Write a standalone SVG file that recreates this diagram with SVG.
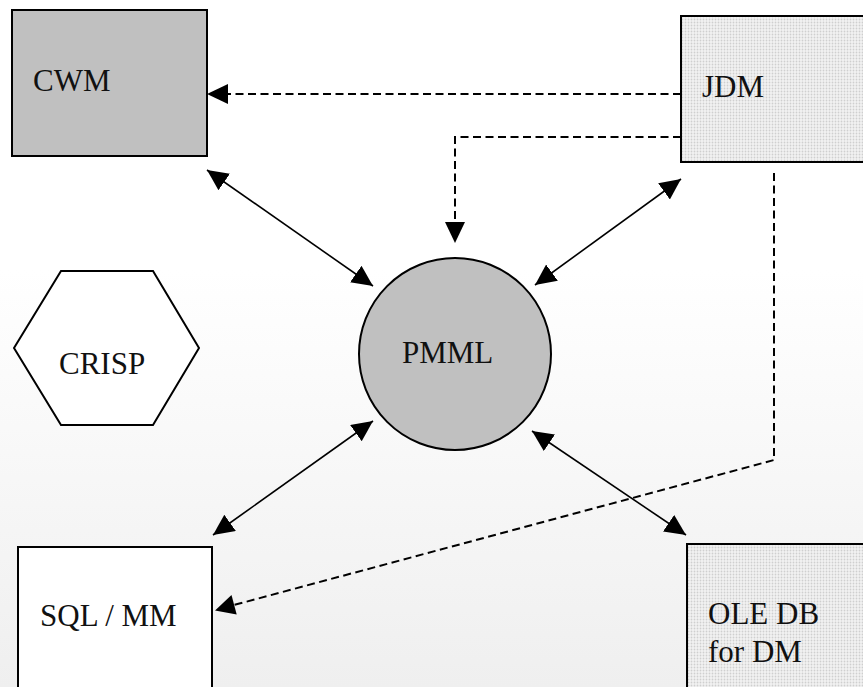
<svg xmlns="http://www.w3.org/2000/svg" width="863" height="687" viewBox="0 0 863 687">
  <style>
    .box { stroke: #000; stroke-width: 2; }
    .lbl { font-size: 31px; fill: #111; }
    .solid { fill: none; stroke: #000; stroke-width: 1.6; marker-start: url(#head); marker-end: url(#head); }
    .dash { fill: none; stroke: #000; stroke-width: 2; stroke-dasharray: 8 4.5; }
  </style>
  <defs>
    <!-- fine dot screen used by the JDM and OLE DB boxes -->
    <pattern id="dots" width="3" height="3" patternUnits="userSpaceOnUse">
      <rect width="3" height="3" fill="#f3f3f3"/>
      <circle cx="1.5" cy="1.5" r="0.9" fill="#cfcfcf"/>
    </pattern>
    <!-- faint haze over the lower background -->
    <linearGradient id="haze" x1="0" y1="0" x2="0" y2="1">
      <stop offset="0" stop-color="#ffffff"/>
      <stop offset="1" stop-color="#efefef"/>
    </linearGradient>
    <marker id="head" markerUnits="userSpaceOnUse" markerWidth="22" markerHeight="21" refX="21" refY="10" orient="auto-start-reverse">
      <path d="M0,0 L21,10 L0,20 z" fill="#000"/>
    </marker>
  </defs>

  <rect width="863" height="687" fill="#ffffff"/>
  <rect x="0" y="270" width="863" height="417" fill="url(#haze)"/>

  <g id="connectors">
    <!-- JDM to CWM -->
    <line class="dash" x1="681" y1="94" x2="227" y2="94"/>
    <path d="M228,84 L207,94 L228,104 z" fill="#000"/>
    <!-- JDM to PMML -->
    <polyline class="dash" points="681,137 455,137 455,224"/>
    <path d="M445,222 L455,243 L465,222 z" fill="#000"/>
    <!-- JDM to SQL / MM -->
    <polyline class="dash" points="774,173 774,460 234,605"/>
    <path d="M231.5,595 L215,610.5 L236.7,614.4 z" fill="#000"/>
    <!-- two-way links to PMML -->
    <line class="solid" x1="207" y1="170" x2="373" y2="286"/>
    <line class="solid" x1="681" y1="179" x2="535" y2="285"/>
    <line class="solid" x1="373" y1="421" x2="213" y2="535"/>
    <line class="solid" x1="532" y1="431" x2="686" y2="535"/>
  </g>

  <g font-family="'Liberation Serif', 'Times New Roman', 'DejaVu Serif', serif">
    <g id="cwm">
      <rect class="box" x="12" y="10" width="195" height="146" fill="#c0c0c0"/>
      <text class="lbl" x="33" y="91">CWM</text>
    </g>

    <g id="jdm">
      <rect class="box" x="681" y="16" width="200" height="146" fill="url(#dots)"/>
      <text class="lbl" x="702" y="97">JDM</text>
    </g>

    <g id="pmml">
      <circle class="box" cx="455" cy="354" r="96" fill="#c0c0c0"/>
      <text class="lbl" x="402" y="363">PMML</text>
    </g>

    <g id="crisp">
      <polygon class="box" points="14,348 61,271 153,271 199,348 153,425 61,425" fill="#ffffff" stroke-width="1.6"/>
      <text class="lbl" x="59" y="374">CRISP</text>
    </g>

    <g id="sqlmm">
      <rect class="box" x="18" y="547" width="194" height="160" fill="#ffffff"/>
      <text class="lbl" x="40" y="626">SQL / MM</text>
    </g>

    <g id="oledb">
      <rect class="box" x="687" y="544" width="200" height="160" fill="url(#dots)"/>
      <text class="lbl" x="708" y="624">OLE DB</text>
      <text class="lbl" x="708" y="662">for DM</text>
    </g>
  </g>
</svg>
